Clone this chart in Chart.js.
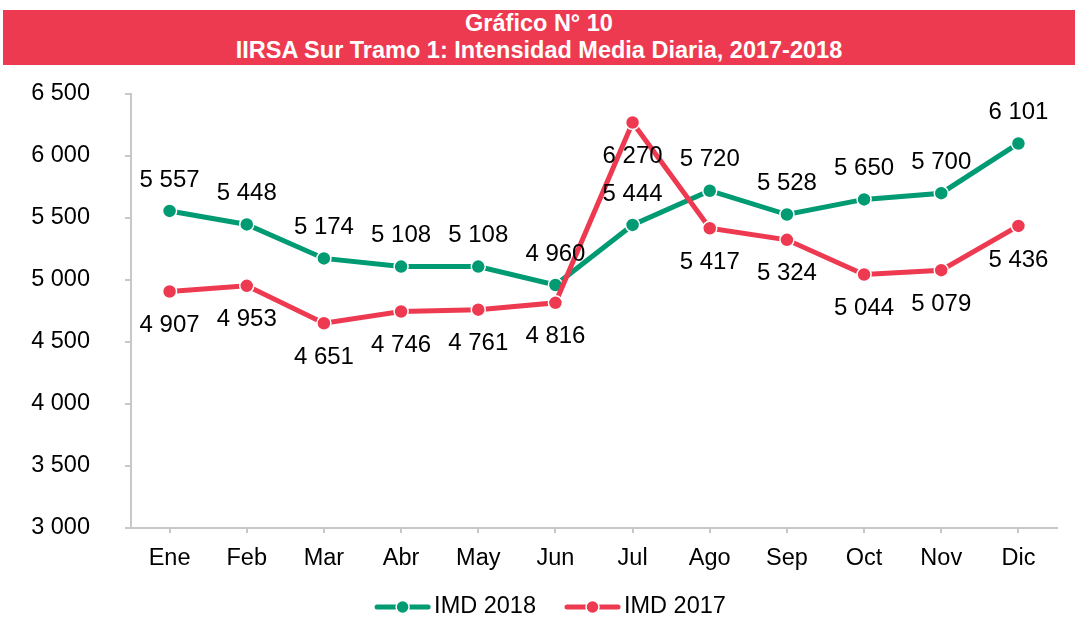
<!DOCTYPE html>
<html lang="es">
<head>
<meta charset="utf-8">
<title>Gráfico N° 10</title>
<script src="https://cdn.jsdelivr.net/npm/chart.js@4.4.1/dist/chart.umd.min.js"></script>
<style>
    html, body { margin: 0; padding: 0; background: #ffffff; }
    #wrap { position: relative; width: 1075px; height: 617px; overflow: hidden; font-family: "Liberation Sans", Arial, sans-serif; }
    #banner {
        position: absolute; left: 3px; top: 10px; width: 1072px; height: 55px;
        background: #EE3A50; color: #ffffff; font-weight: bold; font-size: 23.5px;
        text-align: center; line-height: 27px; z-index: 2;
    }
    #chart { position: absolute; left: 0; top: 0; }
</style>
</head>
<body>
<div id="wrap">
    <div id="banner">Gráfico N° 10<br>IIRSA Sur Tramo 1: Intensidad Media Diaria, 2017-2018</div>
    <canvas id="chart" width="1075" height="617"></canvas>
</div>
<script>
// Datos
const months = ['Ene', 'Feb', 'Mar', 'Abr', 'May', 'Jun', 'Jul', 'Ago', 'Sep', 'Oct', 'Nov', 'Dic'];
const imd2018 = [5557, 5448, 5174, 5108, 5108, 4960, 5444, 5720, 5528, 5650, 5700, 6101];
const imd2017 = [4907, 4953, 4651, 4746, 4761, 4816, 6270, 5417, 5324, 5044, 5079, 5436];
const yMin = 3000;
const yMax = 6500;
const yStep = 500;

const colors = {
    green: '#009A73',
    red: '#EE3A50',
    axis: '#C8C8C8',
    text: '#000000'
};
const fontFamily = '"Liberation Sans", Arial, sans-serif';

// Separador de miles con espacio
function fmt(v) {
    return String(v).replace(/\B(?=(\d{3})+(?!\d))/g, ' ');
}

// Etiquetas de valores sobre / bajo cada punto
const valueLabels = {
    id: 'valueLabels',
    afterDatasetsDraw(chart) {
        const ctx = chart.ctx;
        ctx.save();
        ctx.font = '24px ' + fontFamily;
        ctx.fillStyle = colors.text;
        ctx.textAlign = 'center';
        ctx.textBaseline = 'middle';
        chart.data.datasets.forEach((ds, i) => {
            const meta = chart.getDatasetMeta(i);
            meta.data.forEach((pt, j) => {
                ctx.fillText(fmt(ds.data[j]), pt.x, pt.y + ds.labelOffset);
            });
        });
        ctx.restore();
    }
};

// Leyenda inferior: línea con marcador
const lineLegend = {
    id: 'lineLegend',
    afterDraw(chart) {
        const ctx = chart.ctx;
        ctx.save();
        ctx.font = '23.5px ' + fontFamily;
        ctx.textBaseline = 'middle';
        ctx.textAlign = 'left';
        const y = 607;
        const sample = 57, gap = 3, between = 28;
        const items = chart.data.datasets.map(ds => ({
            ds: ds,
            w: sample + gap + ctx.measureText(ds.label).width
        }));
        const total = items.reduce((s, it) => s + it.w, 0) + between * (items.length - 1);
        let x = 550 - total / 2;
        items.forEach(it => {
            ctx.strokeStyle = it.ds.borderColor;
            ctx.lineWidth = 5;
            ctx.lineCap = 'round';
            ctx.beginPath();
            ctx.moveTo(x + 3, y);
            ctx.lineTo(x + sample - 3, y);
            ctx.stroke();
            ctx.beginPath();
            ctx.fillStyle = it.ds.borderColor;
            ctx.strokeStyle = '#ffffff';
            ctx.lineWidth = 1.5;
            ctx.arc(x + sample / 2, y, 6.5, 0, Math.PI * 2);
            ctx.fill();
            ctx.stroke();
            ctx.fillStyle = colors.text;
            ctx.fillText(it.ds.label, x + sample + gap, y);
            x += it.w + between;
        });
        ctx.restore();
    }
};

new Chart(document.getElementById('chart'), {
    type: 'line',
    data: {
        labels: months,
        datasets: [{
            label: 'IMD 2018',
            data: imd2018,
            borderColor: colors.green,
            backgroundColor: colors.green,
            pointBackgroundColor: colors.green,
            pointBorderColor: '#ffffff',
            pointBorderWidth: 1.5,
            pointRadius: 7,
            borderWidth: 5,
            tension: 0,
            order: 1,
            labelOffset: -31
        }, {
            label: 'IMD 2017',
            data: imd2017,
            borderColor: colors.red,
            backgroundColor: colors.red,
            pointBackgroundColor: colors.red,
            pointBorderColor: '#ffffff',
            pointBorderWidth: 1.5,
            pointRadius: 7,
            borderWidth: 5,
            tension: 0,
            order: 0,
            labelOffset: 34
        }]
    },
    options: {
        responsive: false,
        animation: false,
        layout: {
            padding: { top: 94, right: 18, bottom: 39, left: 0 }
        },
        plugins: {
            legend: { display: false },
            tooltip: { enabled: false }
        },
        scales: {
            x: {
                offset: true,
                grid: { drawOnChartArea: false, tickLength: 5, color: colors.axis, lineWidth: 2, offset: false },
                border: { color: colors.axis, width: 2 },
                ticks: {
                    color: colors.text,
                    padding: 11,
                    maxRotation: 0,
                    font: { family: fontFamily, size: 23.5 }
                },
                afterFit(scale) { scale.height = 50; }
            },
            y: {
                min: yMin,
                max: yMax,
                grid: { drawOnChartArea: false, tickLength: 6, color: colors.axis, lineWidth: 2 },
                border: { color: colors.axis, width: 2 },
                ticks: {
                    stepSize: yStep,
                    color: colors.text,
                    padding: 35,
                    font: { family: fontFamily, size: 23.5 },
                    callback: function(value) { return fmt(value); }
                },
                afterFit(scale) { scale.width = 131; }
            }
        }
    },
    plugins: [valueLabels, lineLegend]
});
</script>
</body>
</html>
